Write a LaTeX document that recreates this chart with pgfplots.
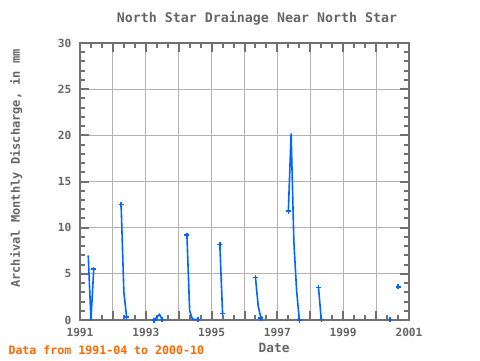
\documentclass[border=0pt]{standalone}
\usepackage{pgfplots}
\pgfplotsset{compat=1.18}
\usepackage{fontspec}
\setmainfont{DejaVu Sans Mono}
\definecolor{axgray}{RGB}{112,112,112}
\definecolor{gridgray}{RGB}{178,178,178}
\definecolor{txtgray}{RGB}{102,102,102}
\definecolor{lineblue}{RGB}{0,102,255}
\definecolor{footorange}{RGB}{255,102,0}
\begin{document}
\begin{tikzpicture}
\path[use as bounding box] (-80pt,-40pt) rectangle (400pt,320pt);
\begin{axis}[
  at={(0pt,0pt)}, anchor=south west,
  scale only axis, width=329pt, height=277pt,
  xmin=1991, xmax=2001, ymin=0, ymax=30,
  xtick={1991,1992,1993,1994,1995,1996,1997,1998,1999,2000,2001},
  xticklabels={1991,,1993,,1995,,1997,,1999,,2001},
  minor x tick num=2,
  ytick={0,5,10,15,20,25,30},
  yticklabels={0,5,10,15,20,25,30},
  minor y tick num=4,
  xmajorgrids, ymajorgrids,
  major grid style={gridgray, line width=1pt},
  axis line style={axgray, line width=2pt},
  tick style={axgray, line width=2pt},
  tick align=inside, xtick pos=both, ytick pos=both,
  major tick length=9pt, minor tick length=5pt,
  /pgf/number format/assume math mode=true,
  xticklabel style={font=\fontsize{11.2}{13}\selectfont\bfseries, text=txtgray, yshift=-5pt},
  yticklabel style={font=\fontsize{11.2}{13}\selectfont\bfseries, text=txtgray, xshift=-5pt},
  title={North Star Drainage Near North Star},
  title style={at={(axis description cs:0.538,1.0722)}, anchor=base, yshift=-5.5pt, font=\fontsize{13.3}{16}\selectfont\bfseries, text=txtgray},
  xlabel={Date},
  xlabel style={at={(axis description cs:0.59,-0.118)}, anchor=base, font=\fontsize{12.8}{15}\selectfont\bfseries, text=txtgray},
  ylabel={Archival Monthly Discharge, in mm},
  ylabel style={at={(axis description cs:-0.1824,0.547)}, anchor=base, font=\fontsize{12}{14}\selectfont\bfseries, text=txtgray},
  clip=false,
]
\addplot[lineblue, line width=1.6pt, unbounded coords=jump] coordinates {
(1991.25,7.0) (1991.3333,0.0) (1991.4167,5.5) (1991.5,nan)
(1992.25,12.5) (1992.3333,3.0) (1992.4167,0.3) (1992.5,nan)
(1993.25,0.0) (1993.3333,0.3) (1993.4167,0.6) (1993.5,0.05) (1993.5833,nan)
(1994.25,9.2) (1994.3333,1.0) (1994.4167,0.1) (1994.5,0.05) (1994.5833,0.05) (1994.6667,nan)
(1995.25,8.2) (1995.3333,0.7) (1995.4167,nan)
(1996.3333,4.6) (1996.4167,1.5) (1996.5,0.2) (1996.5833,nan)
(1997.3333,11.8) (1997.4167,20.2) (1997.5,8.5) (1997.5833,3.2) (1997.6667,0.0) (1997.75,nan)
(1998.25,3.5) (1998.3333,0.05)
};
\addplot[only marks, mark=+, mark size=2.5pt, lineblue, line width=1.5pt] coordinates {
(1991.4167,5.5) (1992.25,12.5) (1992.4167,0.3) (1993.25,0.0) (1993.5,0.05)
(1994.25,9.2) (1994.5833,0.05) (1995.25,8.2) (1995.3333,0.7)
(1996.3333,4.6) (1996.5,0.2) (1997.3333,11.8) (1997.6667,0.0)
(1998.25,3.5) (1998.3333,0.05) (2000.4167,0.05) (2000.6667,3.6)
};
\end{axis}
\node[anchor=base west, font=\fontsize{11.6}{14}\selectfont\bfseries, text=footorange] at (-75pt,-34pt) {Data from 1991-04 to 2000-10};
\end{tikzpicture}
\end{document}
